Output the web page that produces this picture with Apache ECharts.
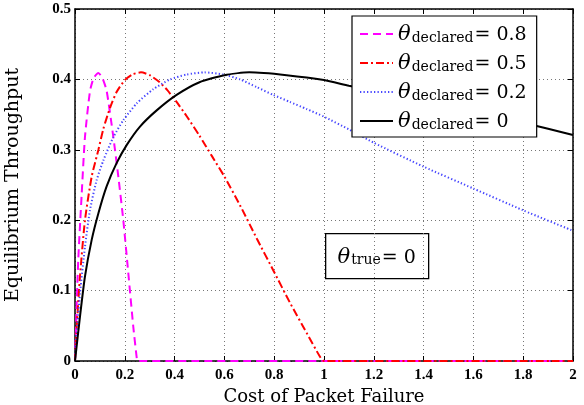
<!DOCTYPE html>
<html lang="en">
<head>
    <meta charset="UTF-8" />
    <title>Equilibrium Throughput vs Cost of Packet Failure</title>
    <script src="https://cdn.jsdelivr.net/npm/echarts@6/dist/echarts.min.js"></script>
    <style>
        html, body { margin: 0; padding: 0; background: #fff; }
        #main { width: 584px; height: 405px; }
    </style>
</head>
<body>
<div id="main"></div>
<script>
// values, [cost, throughput]
let thetaNames = ['0.8', '0.5', '0.2', '0'];

let curve08 = [[0,0],[0.005,0.06],[0.013,0.143],[0.027,0.238],[0.04,0.318],[0.06,0.383],[0.075,0.402],
    [0.094,0.409],[0.11,0.402],[0.127,0.384],[0.154,0.318],[0.174,0.262],[0.194,0.2],[0.214,0.125],
    [0.234,0.049],[0.248,0.004],[0.25,0],[2,0]];

let curve05 = [[0,0],[0.007,0.049],[0.02,0.12],[0.04,0.2],[0.067,0.262],[0.094,0.3],[0.114,0.33],
    [0.141,0.36],[0.167,0.382],[0.2,0.399],[0.23,0.407],[0.265,0.41],[0.3,0.406],[0.34,0.396],
    [0.37,0.385],[0.408,0.368],[0.45,0.347],[0.5,0.32],[0.55,0.291],[0.6,0.262],[0.663,0.221],
    [0.73,0.174],[0.796,0.129],[0.863,0.083],[0.93,0.04],[0.984,0.006],[1.0,0],[2,0]];

let curve02 = [[0,0],[0.007,0.039],[0.02,0.096],[0.04,0.162],[0.06,0.214],[0.087,0.257],[0.114,0.285],
    [0.154,0.318],[0.194,0.342],[0.248,0.366],[0.314,0.386],[0.382,0.4],[0.449,0.407],[0.52,0.41],
    [0.596,0.407],[0.663,0.4],[0.73,0.389],[0.796,0.378],[0.863,0.368],[0.93,0.358],[1.0,0.347],
    [1.1,0.329],[1.2,0.31],[1.4,0.276],[1.6,0.245],[1.8,0.214],[2,0.185]];

let curve0 = [[0,0],[0.02,0.063],[0.04,0.12],[0.067,0.172],[0.094,0.21],[0.127,0.248],[0.167,0.281],
    [0.208,0.307],[0.261,0.333],[0.328,0.356],[0.408,0.378],[0.5,0.396],[0.6,0.406],[0.7,0.41],
    [0.85,0.406],[1.0,0.399],[1.1,0.391],[1.2,0.384],[1.4,0.369],[1.6,0.354],[1.8,0.338],
    [1.9,0.33],[2,0.321]];

let xTicks = { min: 0, max: 2, interval: 0.2 };
let yTicks = { min: 0, max: 0.5, interval: 0.1 };

let myChart = echarts.init(document.getElementById('main'), null, { renderer: 'canvas' });

let serif = '"DejaVu Serif", "Liberation Serif", serif';
let tickFont = { fontFamily: '"Liberation Serif", serif', fontWeight: 'bold', fontSize: 15, color: '#000' };
let gridLine = { show: true, lineStyle: { color: '#777', type: [1, 3], width: 1 } };

function frameAxis(pos, ticks, isX, showLabel) {
    return {
        type: 'value',
        position: pos,
        min: ticks.min, max: ticks.max, interval: ticks.interval,
        axisLine: { show: true, onZero: false, lineStyle: { color: '#000', width: 1.5 } },
        axisTick: { show: true, inside: true, length: 5, lineStyle: { color: '#000', width: 1 } },
        axisLabel: Object.assign({ show: showLabel, margin: isX ? 7 : 4 }, tickFont),
        splitLine: showLabel ? gridLine : { show: false }
    };
}

let xMain = frameAxis('bottom', xTicks, true, true);
xMain.name = 'Cost of Packet Failure';
xMain.nameLocation = 'middle';
xMain.nameGap = 27;
xMain.nameTextStyle = { fontFamily: serif, fontSize: 18, color: '#000' };

let yMain = frameAxis('left', yTicks, false, true);
yMain.name = 'Equilibrium Throughput';
yMain.nameLocation = 'middle';
yMain.nameGap = 52;
yMain.nameTextStyle = { fontFamily: serif, fontSize: 19, color: '#000' };

let richTheta = {
    t: { fontFamily: serif, fontStyle: 'italic', fontSize: 21, color: '#000', lineHeight: 22, verticalAlign: 'bottom' },
    s: { fontFamily: serif, fontSize: 14, color: '#000', verticalAlign: 'bottom', padding: [0, 1, 0, 1] },
    e: { fontFamily: serif, fontSize: 19, color: '#000', lineHeight: 22, verticalAlign: 'bottom' }
};

let styles = [
    { color: '#ff00ff', width: 2, type: [8, 5] },
    { color: '#ff0000', width: 2, type: [8, 3, 2, 3] },
    { color: '#4646ff', width: 2, type: [1.3, 2.2] },
    { color: '#000000', width: 2, type: 'solid' }
];
let curves = [curve08, curve05, curve02, curve0];

let series = curves.map(function (c, i) {
    return {
        name: thetaNames[i],
        type: 'line',
        data: c,
        symbol: 'none',
        showSymbol: false,
        smooth: 0.2,
        clip: false,
        animation: false,
        lineStyle: styles[i],
        itemStyle: { color: styles[i].color },
        z: 2,
        zlevel: 0
    };
});

myChart.setOption({
    animation: false,
    grid: { left: 75, right: 11, top: 9, bottom: 44, containLabel: false, outerBoundsMode: 'none' },
    xAxis: [xMain, frameAxis('top', xTicks, true, false)],
    yAxis: [yMain, frameAxis('right', yTicks, false, false)],
    legend: {
        orient: 'vertical',
        left: 352, top: 16,
        z: 20,
        padding: [8, 10, 5, 7],
        itemGap: 8,
        itemWidth: 33,
        itemHeight: 14,
        itemTextGap: 5,
        backgroundColor: '#fff',
        borderColor: '#000',
        borderWidth: 1.2,
        itemStyle: { opacity: 0, borderWidth: 0 },
        data: thetaNames,
        formatter: function (name) {
            return '{t|θ}{s|declared}{e|= ' + name + '}';
        },
        textStyle: { rich: richTheta }
    },
    graphic: [{
        type: 'group',
        left: 325, top: 233,
        z: 20,
        children: [{
            type: 'rect',
            shape: { x: 0, y: 0, width: 103, height: 45 },
            style: { fill: '#fff', stroke: '#000', lineWidth: 1.3 }
        }, {
            type: 'text',
            x: 51, y: 23,
            style: {
                text: '{t|θ}{s|true}{e|= 0}',
                align: 'center', verticalAlign: 'middle',
                rich: richTheta
            }
        }]
    }],
    series: series
});
</script>
</body>
</html>
